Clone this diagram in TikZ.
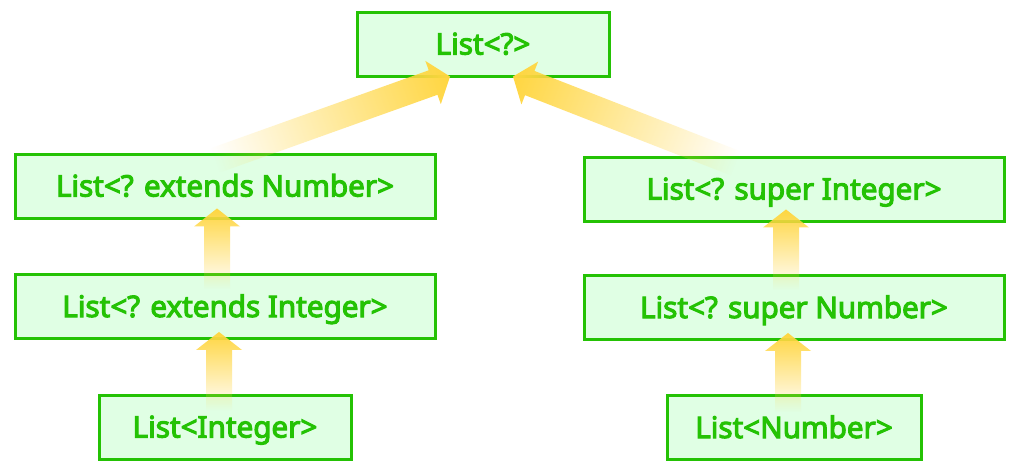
\documentclass[tikz,border=0pt]{standalone}
\usepackage{fontspec}
\setmainfont{Noto Sans}
\newfontfamily\boxfont{Noto Sans}[FakeBold=3.6]
\usetikzlibrary{calc,fadings}
\definecolor{boxline}{RGB}{36,194,4}
\definecolor{boxfill}{RGB}{224,255,228}
\definecolor{arrowyel}{RGB}{255,214,64}
\tikzfading[name=tailfade, left color=transparent!100, middle color=transparent!30, right color=transparent!0]
\tikzset{
  box/.style={draw=boxline, fill=boxfill, line width=3pt, minimum height=64pt,
    inner sep=0pt, text=boxline, text height=21pt, text depth=0pt,
    font=\boxfont\fontsize{29.6}{35}\selectfont},
  blockfill/.style={fill=arrowyel, path fading=tailfade}
}
\newcommand\blockarrow[2]{%
  \path let \p1=($(#2)-(#1)$) in \pgfextra{%
    \pgfmathsetmacro\BAa{atan2(\y1,\x1)}\pgfmathsetmacro\BAl{veclen(\x1,\y1)}%
    \xdef\BAang{\BAa}\xdef\BAlen{\BAl}};
  \begin{scope}[transform canvas={shift={(#1)},rotate=\BAang}]
    \fill[blockfill] (0pt,-13pt) -- ({\BAlen pt-18pt},-13pt) -- ({\BAlen pt-18pt},-23pt)
      -- ({\BAlen pt},0pt) -- ({\BAlen pt-18pt},23pt) -- ({\BAlen pt-18pt},13pt) -- (0pt,13pt) -- cycle;
  \end{scope}}
\begin{document}
\begin{tikzpicture}[x=1pt,y=-1pt]
\fill[white] (0,0) rectangle (1021,474);
\useasboundingbox (0,0) rectangle (1021,474);
\node[box, minimum width=252pt] (top) at (483,44) {List<?>};
\node[box, minimum width=420pt] (l1) at (225,186) {List<? extends Number>};
\node[box, minimum width=420pt] (l2) at (225,306.5) {List<? extends Integer>};
\node[box, minimum width=252pt] (l3) at (225,427) {List<Integer>};
\node[box, minimum width=420pt] (r1) at (794,189) {List<? super Integer>};
\node[box, minimum width=420pt] (r2) at (794,307.5) {List<? super Number>};
\node[box, minimum width=254pt] (r3) at (794,427.5) {List<Number>};
\coordinate (a1s) at ($(l3.north)+(-6,17)$);
\coordinate (a1t) at ($(l2.south)+(-6,-8)$);
\coordinate (a2s) at ($(l2.north)+(-8,16)$);
\coordinate (a2t) at ($(l1.south)+(-8,-11)$);
\coordinate (a3s) at ($(r3.north)+(-6,18)$);
\coordinate (a3t) at ($(r2.south)+(-6,-8)$);
\coordinate (a4s) at ($(r2.north)+(-8,16)$);
\coordinate (a4t) at ($(r1.south)+(-8,-13)$);
\coordinate (a5s) at ($(l1.north)+(-10,8)$);
\coordinate (a5t) at ($(top.south)+(-33,-1)$);
\coordinate (a6s) at ($(r1.north)+(-58,8)$);
\coordinate (a6t) at ($(top.south)+(30,-1)$);
\blockarrow{a1s}{a1t}
\blockarrow{a2s}{a2t}
\blockarrow{a3s}{a3t}
\blockarrow{a4s}{a4t}
\blockarrow{a5s}{a5t}
\blockarrow{a6s}{a6t}
\end{tikzpicture}
\end{document}
